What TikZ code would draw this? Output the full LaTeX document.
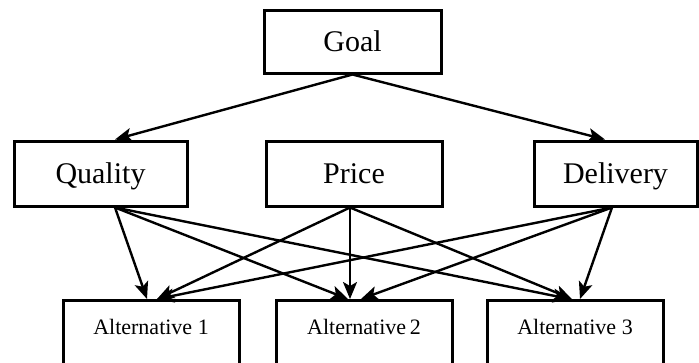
\documentclass[tikz,border=0pt]{standalone}
\usepackage{fontspec}
\setmainfont{Liberation Serif}
\usetikzlibrary{arrows.meta}
\begin{document}
\begin{tikzpicture}[x=1pt,y=-1pt,
  box/.style={draw, line width=3pt, rectangle, inner sep=0pt, text height=20pt, text depth=0pt, font=\fontsize{30}{30}\selectfont},
  altbox/.style={draw, line width=3pt, rectangle, minimum width=176pt, anchor=north, inner xsep=0pt, inner ysep=18pt, text height=16pt, text depth=22pt, font=\fontsize{22}{22}\selectfont},
  arr/.style={line width=2.4pt, -{Stealth[length=17pt,width=14pt,inset=4pt]}}]
\useasboundingbox (0,0) rectangle (699,362);
\clip (0,0) rectangle (699,362);
\node[box, minimum width=177pt, minimum height=63pt] (G) at (352.5,41.5) {Goal};
\node[box, minimum width=173pt, minimum height=65pt] (Q) at (100.5,173.5) {Quality};
\node[box, minimum width=176pt, minimum height=65pt] (P) at (354,173.5) {Price};
\node[box, minimum width=163pt, minimum height=65pt] (D) at (615.5,173.5) {Delivery};
\node[altbox] (A1) at (151,299) {Alternative 1};
\node[altbox] (A2) at (364,299) {Alternative\,2};
\node[altbox] (A3) at (575,299) {Alternative 3};
\draw[arr] (G.south) -- ([xshift=14.5pt]Q.north);
\draw[arr] (G.south) -- ([xshift=-10.5pt]D.north);
\coordinate (qs) at ([xshift=14.5pt]Q.south);
\coordinate (ps) at ([xshift=-4pt]P.south);
\coordinate (ds) at ([xshift=-3.5pt]D.south);
\draw[arr] (qs) -- ([xshift=-4pt]A1.north);
\draw[arr] (qs) -- ([xshift=-16pt]A2.north);
\draw[arr] (qs) -- ([xshift=-5pt]A3.north);
\draw[arr] (ps) -- ([xshift=6pt]A1.north);
\draw[arr] (ps) -- ([xshift=-14pt]A2.north);
\draw[arr] (ps) -- ([xshift=-3pt]A3.north);
\draw[arr] (ds) -- ([xshift=6pt]A1.north);
\draw[arr] (ds) -- ([xshift=-3pt]A2.north);
\draw[arr] (ds) -- ([xshift=5pt]A3.north);
\end{tikzpicture}
\end{document}
